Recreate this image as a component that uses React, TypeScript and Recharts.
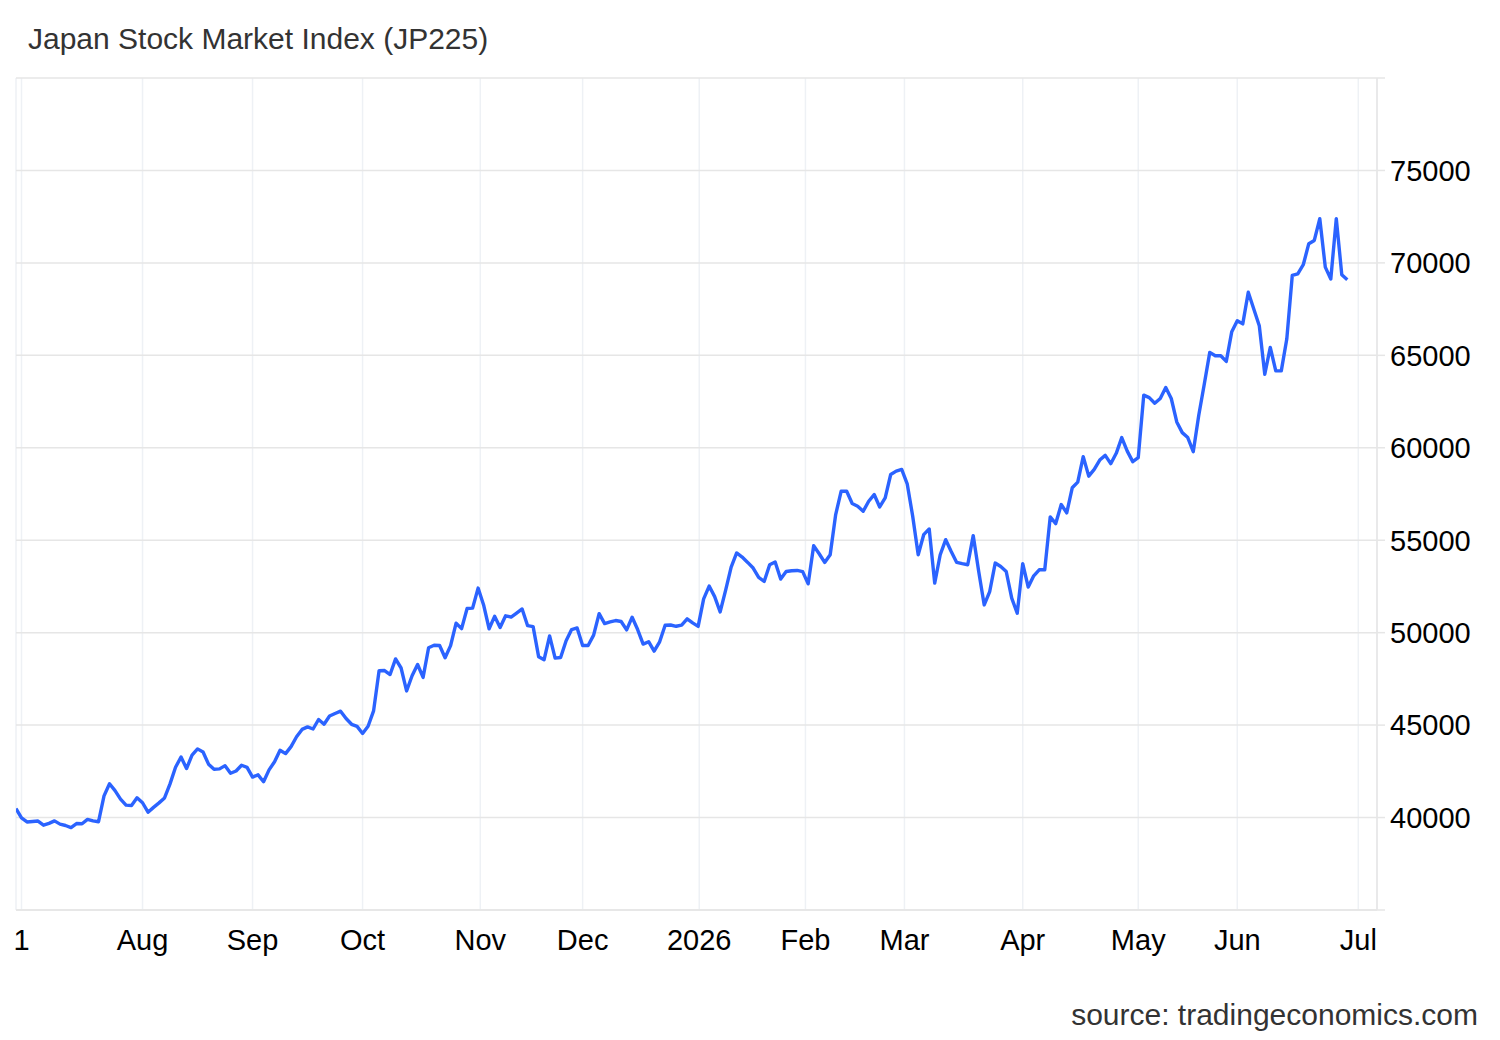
import { LineChart, Line, XAxis, YAxis, CartesianGrid } from 'recharts'

// closing values, one per trading day, 30 Jun 2025 .. 29 Jun 2026
const julAug = [
    40487, 39986, 39762, 39785, 39811, 39588, 39688, 39821, 39646, 39570,
    39459, 39678, 39663, 39901, 39819, 39774, 41171, 41826, 41456, 40998,
    40674, 40655, 41069, 40800, 40290, 40549, 40794, 41059, 41820, 42718,
    43275, 42649, 43378, 43714, 43546, 42888, 42610, 42633, 42807, 42394,
    42520, 42829, 42718,
]
const sepOct = [
    42188, 42310, 41938, 42580, 43019, 43644, 43460, 43838, 44372, 44768,
    44902, 44790, 45303, 45046, 45494, 45630, 45755, 45355, 45044, 44933,
    44550, 44937, 45770, 47944, 47951, 47735, 48580, 48089, 46847, 47672,
    48277, 47582, 49186, 49316, 49308, 48642, 49300, 50512, 50220, 51308,
    51326, 52411,
]
const novDec = [
    51498, 50212, 50884, 50276, 50912, 50843, 51063, 51282, 50377, 50324,
    48703, 48538, 49824, 48626, 48660, 49560, 50168, 50254,
    49303, 49303, 49865, 51028, 50492, 50582, 50656, 50603, 50149, 50837,
    50168, 49383, 49512, 49001, 49507, 50403, 50413, 50345, 50408, 50750,
    50527, 50339,
]
const janFeb = [
    51830, 52520, 51950, 51120, 52300, 53550, 54310, 54090, 53800, 53495,
    52985, 52770, 53670, 53820, 52900, 53310, 53350, 53365, 53300,
    52640, 54700, 54270, 53800, 54215, 56390, 57650, 57650, 56985, 56840,
    56565, 57110, 57470, 56800, 57290, 58555, 58740, 58830,
]
const marApr = [
    58050, 56300, 54215, 55300, 55610, 52680, 54215, 55030, 54395, 53800,
    53730, 53675, 55250, 53310, 51500, 52225, 53765, 53580, 53310, 51865,
    51050,
    53730, 52465, 53075, 53400, 53400, 56260, 55900, 56930, 56480, 57835,
    58140, 59520, 58465, 58830, 59335, 59590, 59140, 59700, 60550, 59820,
    59250,
]
const mayJun = [
    59465, 62845, 62715, 62410, 62665, 63260, 62665, 61395, 60820, 60550,
    59790, 61760, 63440, 65160, 64975, 64975, 64670, 66280,
    66875, 66700, 68415, 67510, 66605, 63980, 65430, 64160, 64160, 65880,
    69320, 69410, 69900, 71040, 71215, 72390, 69770, 69130, 72390, 69355,
    69085,
]

// month starts, as trading-day positions
const monthTicks = [1, 23, 43, 63, 84.4, 103, 124.2, 143.5, 161.5, 183, 204, 222, 244]
const monthLabels = ['1', 'Aug', 'Sep', 'Oct', 'Nov', 'Dec', '2026', 'Feb', 'Mar', 'Apr', 'May', 'Jun', 'Jul']

const yTicks = [35000, 40000, 45000, 50000, 55000, 60000, 65000, 70000, 75000, 80000]

const closes = [...julAug, ...sepOct, ...novDec, ...janFeb, ...marApr, ...mayJun]
const data = closes.map((v, i) => ({ day: i, value: v }))

const FONT = '"Liberation Sans", Arial, Helvetica, sans-serif'

export default function App() {
    const labelFor = (t: number) => {
        const idx = monthTicks.indexOf(t)
        return idx >= 0 ? monthLabels[idx] : ''
    }

    return (
        <div style={{ position: 'absolute', left: 0, top: 0, width: 1500, height: 1040, background: '#fff', fontFamily: FONT }}>
            <div style={{ position: 'absolute', left: 28, top: 24, fontSize: 30, lineHeight: '30px', color: '#333' }}>
                Japan Stock Market Index (JP225)
            </div>
            <LineChart
                width={1500}
                height={1040}
                data={data}
                margin={{ top: 78, right: 0, bottom: 70, left: 16 }}
            >
                <CartesianGrid horizontal={false} stroke="#eef1f5" strokeWidth={1.5} />
                <CartesianGrid vertical={false} stroke="#e6e6e6" strokeWidth={1.5} />
                <XAxis
                    dataKey="day"
                    type="number"
                    domain={[0, 247.4]}
                    ticks={monthTicks}
                    interval={0}
                    allowDataOverflow
                    tickFormatter={labelFor}
                    tickLine={false}
                    axisLine={{ stroke: '#e6e6e6', strokeWidth: 1.5 }}
                    tickMargin={13}
                    height={60}
                    tick={{ fill: '#000', fontSize: 29, fontFamily: FONT }}
                />
                <YAxis
                    orientation="right"
                    domain={[35000, 80000]}
                    ticks={yTicks}
                    interval={0}
                    allowDataOverflow
                    width={123}
                    tickSize={8}
                    tickMargin={5}
                    tickFormatter={(v: number) => (v === 35000 || v === 80000 ? '' : String(v))}
                    tickLine={{ stroke: '#e6e6e6', strokeWidth: 1.5 }}
                    axisLine={{ stroke: '#e6e6e6', strokeWidth: 1.5 }}
                    tick={{ fill: '#000', fontSize: 29, fontFamily: FONT }}
                />
                <Line
                    type="linear"
                    dataKey="value"
                    stroke="#2b63ff"
                    strokeWidth={3.4}
                    strokeLinejoin="round"
                    dot={false}
                    activeDot={false}
                    isAnimationActive={false}
                />
            </LineChart>
            <div style={{ position: 'absolute', right: 22, top: 1000, fontSize: 30, lineHeight: '30px', color: '#333' }}>
                source: tradingeconomics.com
            </div>
        </div>
    )
}
